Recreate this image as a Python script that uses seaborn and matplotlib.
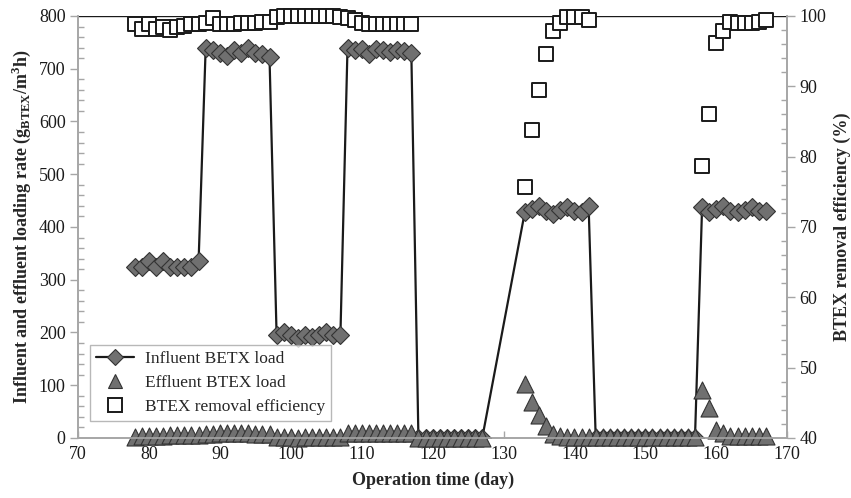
import numpy as np
import pandas as pd
import matplotlib
matplotlib.use("Agg")
import matplotlib.pyplot as plt
from matplotlib.ticker import MultipleLocator
from matplotlib.lines import Line2D
import seaborn as sns

sns.set_theme(style="white")
plt.rcParams["font.family"] = ["Liberation Serif", "DejaVu Serif"]
plt.rcParams["mathtext.fontset"] = "custom"
plt.rcParams["mathtext.rm"] = "Liberation Serif"
plt.rcParams["mathtext.bf"] = "Liberation Serif:bold"

# ---- data ----
days_load = list(range(78, 128)) + list(range(133, 168))
influent = ([325, 325, 335, 325, 335, 325, 325, 325, 325, 335] +
            [740, 735, 730, 725, 735, 730, 740, 730, 728, 722] +
            [195, 200, 195, 190, 195, 192, 195, 200, 195, 195] +
            [740, 735, 738, 728, 738, 735, 732, 735, 733, 730] +
            [0] * 10 +
            [428, 435, 440, 430, 425, 432, 438, 430, 428, 440] +
            [0] * 15 +
            [437, 428, 435, 440, 430, 428, 432, 438, 430, 430])
effluent = ([2, 3, 3, 4, 4, 5, 5, 5, 6, 6] +
            [8, 8, 9, 9, 10, 10, 9, 8, 8, 7] +
            [1, 1, 1, 0, 1, 1, 1, 1, 1, 2] +
            [9, 10, 10, 10, 10, 10, 10, 10, 10, 10] +
            [0] * 10 +
            [102, 69, 44, 23, 8, 3, 1, 1, 1, 1] +
            [1] * 15 +
            [91, 57, 15, 9, 4, 3, 3, 3, 3, 3])
days_eff = list(range(78, 118)) + list(range(133, 143)) + list(range(158, 168))
removal = ([98.8, 98.2, 98.9, 98.2, 98.5, 98.0, 98.5, 98.6, 98.8, 98.9] +
           [99.0, 99.7, 98.9, 98.8, 98.9, 99.0, 99.0, 99.0, 99.1, 99.2] +
           [99.9, 100, 100, 100, 100, 100, 100, 100, 100, 99.9] +
           [99.7, 99.4, 99.0, 98.8, 98.9, 98.9, 98.9, 98.8, 98.9, 98.9] +
           [75.7, 83.8, 89.5, 94.6, 97.9, 99.0, 99.8, 99.8, 99.9, 99.4] +
           [78.7, 86.1, 96.2, 97.9, 99.2, 99.0, 99.0, 99.0, 99.1, 99.4])

x_ticks = [70, 80, 90, 100, 110, 120, 130, 140, 150, 160, 170]
y_ticks = [0, 100, 200, 300, 400, 500, 600, 700, 800]
y2_ticks = [40, 50, 60, 70, 80, 90, 100]

load_df = pd.DataFrame({"day": days_load, "inf": influent, "eff": effluent})
rem_df = pd.DataFrame({"day": days_eff, "rem": removal})

fig = plt.figure(figsize=(8.51, 4.98), dpi=100)
ax = fig.add_axes([0.0917, 0.1205, 0.8333, 0.8474])
ax2 = ax.twinx()

gray = "#707070"
sns.lineplot(data=load_df, x="day", y="inf", ax=ax, color="#1a1a1a", lw=1.6,
             marker="D", markersize=9, markerfacecolor=gray,
             markeredgecolor="#333333", markeredgewidth=0.8, zorder=3)
sns.scatterplot(data=load_df, x="day", y="eff", ax=ax, marker="^", s=150,
                color=gray, edgecolor="#333333", linewidth=0.8, zorder=4,
                clip_on=False)
sns.scatterplot(data=rem_df, x="day", y="rem", ax=ax2, marker="s", s=100,
                facecolor="white", edgecolor="#1a1a1a", linewidth=1.4, zorder=5,
                clip_on=False)

ax.axhline(800, color="#1a1a1a", lw=1.0, zorder=1)

ax.set_xlim(70, 170)
ax.set_ylim(0, 800)
ax2.set_ylim(40, 100)
ax.set_xticks(x_ticks)
ax.set_yticks(y_ticks)
ax2.set_yticks(y2_ticks)
ax.yaxis.set_minor_locator(MultipleLocator(20))
ax2.yaxis.set_minor_locator(MultipleLocator(2))

spc = "#a6a6a6"
for a in (ax, ax2):
    for s in a.spines.values():
        s.set_color(spc)
        s.set_linewidth(1.2)
    a.spines["top"].set_visible(False)
ax.tick_params(axis="y", which="major", direction="out", length=6, width=1, color=spc,
               labelsize=13, labelcolor="#1a1a1a", pad=3, left=True)
ax.tick_params(axis="y", which="minor", direction="in", length=4, width=1, color=spc, left=True)
ax.tick_params(axis="x", which="major", direction="in", length=5, width=1, color=spc,
               labelsize=13, labelcolor="#1a1a1a", pad=6, bottom=True)
ax2.tick_params(axis="y", which="major", direction="out", length=6, width=1, color=spc,
                labelsize=13, labelcolor="#1a1a1a", pad=3, right=True)
ax2.tick_params(axis="y", which="minor", direction="in", length=4, width=1, color=spc, right=True)

ax.set_xlabel("Operation time (day)", fontsize=13, fontweight="bold", labelpad=6)
ax.set_ylabel(r"Influent and effluent loading rate (g$_{\mathbf{BTEX}}$/m$^{\mathbf{3}}$h)",
              fontsize=13, fontweight="bold", labelpad=4)
ax2.set_ylabel("BTEX removal efficiency (%)", fontsize=13, fontweight="bold")
ax2.yaxis.set_label_coords(1.065, 0.5)
ax.grid(False)
ax2.grid(False)

handles = [
    Line2D([0], [0], color="#1a1a1a", lw=1.6, marker="D", markersize=8,
           markerfacecolor=gray, markeredgecolor="#333333", markeredgewidth=0.8),
    Line2D([0], [0], lw=0, marker="^", markersize=10, markerfacecolor=gray,
           markeredgecolor="#333333", markeredgewidth=0.8),
    Line2D([0], [0], lw=0, marker="s", markersize=9.5, markerfacecolor="white",
           markeredgecolor="#1a1a1a", markeredgewidth=1.4),
]
labels = ["Influent BETX load", "Effluent BTEX load", "BTEX removal efficiency"]
leg = ax2.legend(handles, labels, loc="lower left", bbox_to_anchor=(0.017, 0.04),
                 borderaxespad=0, frameon=True, fancybox=False, fontsize=12.5,
                 handlelength=2.2, handletextpad=0.6, labelspacing=0.45,
                 borderpad=0.35)
leg.get_frame().set_edgecolor("#a6a6a6")
leg.get_frame().set_linewidth(1.0)
leg.set_zorder(10)

fig.savefig("out.png", dpi=100)
